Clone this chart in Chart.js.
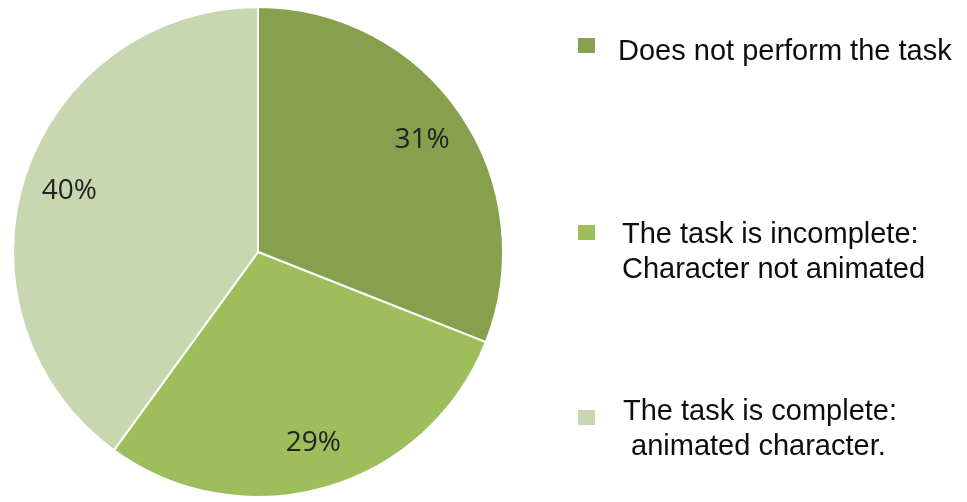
<!DOCTYPE html>
<html>
<head>
<meta charset="utf-8">
<script src="https://cdn.jsdelivr.net/npm/chart.js@4.4.0/dist/chart.umd.min.js"></script>
<style>
html,body{margin:0;padding:0;background:#fff;}
#wrap{position:relative;width:967px;height:502px;}
</style>
</head>
<body>
<div id="wrap"><canvas id="c" width="967" height="502"></canvas></div>
<script>
// ---- data ----
const categories = ["Does not perform the task", "The task is incomplete: Character not animated", "The task is complete: animated character."];
const legendLines = [["Does not perform the task"], ["The task is incomplete:", "Character not animated"], ["The task is complete:", " animated character."]];
const percentValues = [31, 29, 40];
const sliceColors = ["#87A04E", "#9EBE5C", "#C9D7B0"];

// ---- plugins ----
const sliceLabels = {
  id: 'sliceLabels',
  afterDatasetsDraw(chart) {
    const ctx = chart.ctx;
    const meta = chart.getDatasetMeta(0);
    ctx.save();
    ctx.font = '28px "Open Sans"';
    ctx.fillStyle = '#222222';
    ctx.textAlign = 'center';
    ctx.textBaseline = 'middle';
    meta.data.forEach((arc, i) => {
      const p = arc.getProps(['x','y','startAngle','endAngle','outerRadius'], true);
      const mid = (p.startAngle + p.endAngle) / 2;
      const r = p.outerRadius * 0.81;
      ctx.fillText(percentValues[i] + '%', p.x + Math.cos(mid) * r, p.y + Math.sin(mid) * r);
    });
    ctx.restore();
  }
};

const sideLegend = {
  id: 'sideLegend',
  afterDraw(chart) {
    const ctx = chart.ctx;
    const o = chart.options.plugins.sideLegend;
    ctx.save();
    ctx.font = o.font;
    ctx.textAlign = 'left';
    ctx.textBaseline = 'alphabetic';
    legendLines.forEach((lines, i) => {
      const it = o.items[i];
      ctx.fillStyle = sliceColors[i];
      ctx.fillRect(it.boxX, it.boxY, 17, 15);
      ctx.fillStyle = '#0d0d0d';
      lines.forEach((t, j) => {
        ctx.fillText(t, it.textX, it.baseY + j * o.lineGap);
      });
    });
    ctx.restore();
  }
};

new Chart(document.getElementById('c'), {
  type: 'pie',
  data: {
    labels: categories,
    datasets: [{
      data: percentValues,
      backgroundColor: sliceColors,
      borderColor: '#ffffff',
      borderWidth: 2
    }]
  },
  options: {
    responsive: false,
    animation: false,
    layout: { padding: { left: 12, top: 6, bottom: 4, right: 463 } },
    plugins: {
      legend: { display: false },
      tooltip: { enabled: false },
      sideLegend: {
        font: '29px "Liberation Sans"',
        lineGap: 35,
        items: [
          { boxX: 578, boxY: 38, textX: 618, baseY: 60 },
          { boxX: 578, boxY: 225, textX: 622, baseY: 243 },
          { boxX: 578, boxY: 410, textX: 623, baseY: 420 }
        ]
      }
    }
  },
  plugins: [sliceLabels, sideLegend]
});
</script>
</body>
</html>
